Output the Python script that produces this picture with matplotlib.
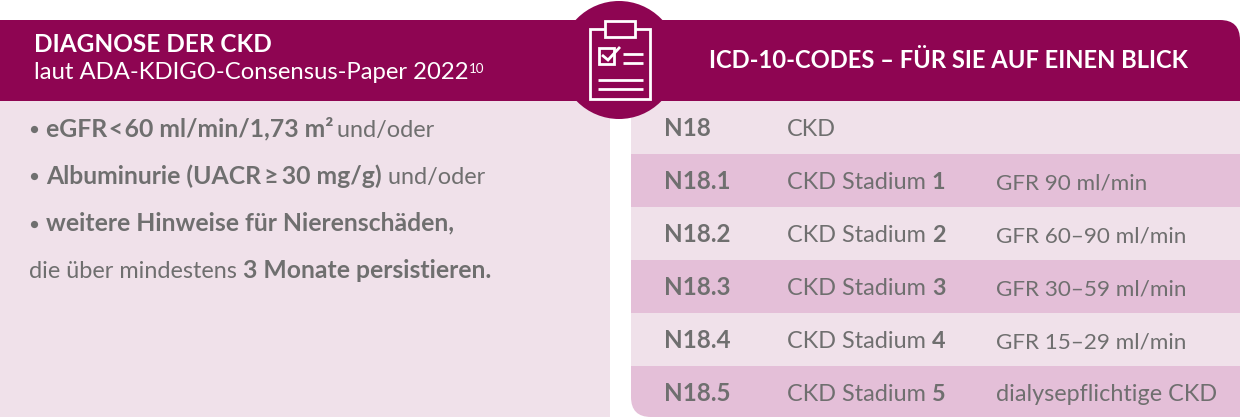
"""ICD-10 info panel for CKD diagnosis."""

import matplotlib

matplotlib.use("Agg")
import matplotlib.pyplot as plt
from matplotlib.patches import Circle, FancyBboxPatch, PathPatch, Rectangle
from matplotlib.path import Path as MplPath

plt.rcParams["font.family"] = ["Lato", "DejaVu Sans"]

PURPLE = "#8e0552"
LIGHT = "#f0e1ea"
MID = "#e4bfd8"
GREY = "#6f6f6f"
WHITE = "#ffffff"

HEADER_LEFT = "DIAGNOSE DER CKD"
SUBHEADER_LEFT = "laut ADA-KDIGO-Consensus-Paper 2022"
HEADER_RIGHT = "ICD-10-CODES – FÜR SIE AUF EINEN BLICK"

# each line is a list of (text, is_bold) runs, plus a flag for the bullet
LEFT_LINES = [
    [("eGFR\u200a<\u200a60 ml/min/1,73 m²", True), ("\u2009und/oder", False)],
    [("Albuminurie (UACR\u2009≥\u200930 mg/g)", True), (" und/oder", False)],
    [("weitere Hinweise für Nierenschäden,", True)],
    [("die über mindestens ", False), ("3 Monate persistieren.", True)],
]
LEFT_BULLETS = [True, True, True, False]

CODES = ["N18", "N18.1", "N18.2", "N18.3", "N18.4", "N18.5"]
STAGES = ["", "1", "2", "3", "4", "5"]
GFR_TEXT = [
    "",
    "GFR 90 ml/min",
    "GFR 60–90 ml/min",
    "GFR 30–59 ml/min",
    "GFR 15–29 ml/min",
    "dialysepflichtige CKD",
]

fig = plt.figure(figsize=(12.4, 4.19), dpi=100)
ax = fig.add_axes([0, 0, 1, 1])
ax.set_xlim(0, 1240)
ax.set_ylim(419, 0)
ax.axis("off")


def draw_runs(x, y, runs, size, color=GREY, bold_size=None):
    # place bold/regular pieces one after the other, measured with the renderer
    renderer = fig.canvas.get_renderer()
    for text, is_bold in runs:
        run_size = bold_size if is_bold and bold_size else size
        t = ax.text(x, y, text.replace(" ", "\u00a0"), fontsize=run_size, color=color,
                    fontweight="bold" if is_bold else "normal", va="baseline", ha="left")
        x = ax.transData.inverted().transform(
            (t.get_window_extent(renderer).x1, 0))[0]
    return x


# left panel
ax.add_patch(Rectangle((0, 101), 610, 316, fc=LIGHT, ec="none"))
ax.add_patch(Rectangle((0, 20), 640, 81, fc=PURPLE, ec="none"))

# right panel, table rows
clip_low = FancyBboxPatch((631, 60), 700, 357, boxstyle="round,pad=0,rounding_size=20",
                          fc="none", ec="none")
ax.add_patch(clip_low)
row_top = 101
row_h = 53
for i, code in enumerate(CODES):
    band = Rectangle((631, row_top + i * row_h), 609, row_h,
                     fc=MID if i % 2 else LIGHT, ec="none")
    ax.add_patch(band)
    band.set_clip_path(clip_low)

# right header, rounded top right corner
clip_top = FancyBboxPatch((560, 20), 680, 160, boxstyle="round,pad=0,rounding_size=20",
                          fc="none", ec="none")
ax.add_patch(clip_top)
head = Rectangle((600, 20), 640, 81, fc=PURPLE, ec="none")
ax.add_patch(head)
head.set_clip_path(clip_top)

# icon
ax.add_patch(Circle((619, 60), 59, fc=PURPLE, ec="none"))
lw = 2.0
ax.add_patch(Rectangle((590, 29), 60, 70, fc="none", ec=WHITE, lw=lw))
ax.add_patch(Rectangle((605, 21), 30, 16, fc=PURPLE, ec=WHITE, lw=lw))
ax.add_patch(Rectangle((599, 48), 15, 16, fc="none", ec=WHITE, lw=lw))
check = MplPath([(602, 55), (608, 60), (620, 47)])
ax.add_patch(PathPatch(check, fc="none", ec=WHITE, lw=lw))
for x0, x1, y0 in [(623, 643, 54), (623, 643, 63), (598, 643, 80), (598, 643, 89)]:
    ax.plot([x0, x1], [y0, y0], color=WHITE, lw=lw, solid_capstyle="butt")

# headers
ax.text(34, 52.5, HEADER_LEFT, fontsize=17.6, fontweight="bold", color=WHITE, va="baseline")
end = draw_runs(34, 79, [(SUBHEADER_LEFT, False)], 17.2, WHITE)
ax.text(end + 0.5, 73, "10", fontsize=9.6, color=WHITE, va="baseline")
ax.text(709, 68.5, HEADER_RIGHT, fontsize=17.1, fontweight="bold", color=WHITE, va="baseline")

# left text
for line, has_bullet, y in zip(LEFT_LINES, LEFT_BULLETS, [136.5, 183.5, 230.5, 277.5]):
    if has_bullet:
        ax.plot([34], [y - 7], "o", ms=5.2, color=GREY, mec="none")
    draw_runs(46 if has_bullet else 29, y, line, 16.9, bold_size=17.8)

# table text
for i, code in enumerate(CODES):
    y = 136 + i * row_h
    ax.text(664, y, code, fontsize=17.4, fontweight="bold", color=GREY, va="baseline")
    if i == 0:
        draw_runs(787, y, [("CKD", False)], 16.8)
    else:
        draw_runs(787, y, [("CKD Stadium ", False), (STAGES[i], True)], 16.8)
        # numbers run wide in this font, so the GFR rows go slightly smaller
        gfr_size = 16.8 if GFR_TEXT[i].startswith("dialyse") else 16.2
        ax.text(996, y, GFR_TEXT[i], fontsize=gfr_size, color=GREY, va="baseline")

fig.savefig("out.png", dpi=100)
